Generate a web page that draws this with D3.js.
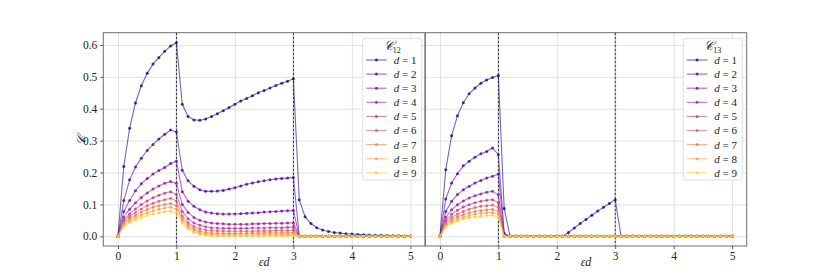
<!DOCTYPE html>
<html>
<head>
<meta charset="utf-8">
<script src="https://cdn.jsdelivr.net/npm/d3@7"></script>
<style>
  body { margin: 0; background: #fff; }
  svg { display: block; font-family: "Liberation Serif", "DejaVu Serif", serif; }
</style>
</head>
<body>
<div id="chart"></div>
<script>
// x grid (εd) shared by every series
const xs = [0, 0.1, 0.2, 0.3, 0.4, 0.5, 0.6, 0.7, 0.8, 0.9, 1.0,
  1.1, 1.2, 1.3, 1.4, 1.5, 1.6, 1.7, 1.8, 1.9, 2.0,
  2.1, 2.2, 2.3, 2.4, 2.5, 2.6, 2.7, 2.8, 2.9, 3.0,
  3.1, 3.2, 3.3, 3.4, 3.5, 3.6, 3.7, 3.8, 3.9, 4.0,
  4.1, 4.2, 4.3, 4.4, 4.5, 4.6, 4.7, 4.8, 4.9, 5.0];

const dValues = [1, 2, 3, 4, 5, 6, 7, 8, 9];
const xTicks = [0, 1, 2, 3, 4, 5];
const yTicks = [0, 0.1, 0.2, 0.3, 0.4, 0.5, 0.6];
const markerLines = [1, 3];

// C_12, one array per d
const c12_d1 = [0, 0.219, 0.339, 0.418, 0.472, 0.511, 0.540, 0.561, 0.580, 0.597, 0.607,
  0.414, 0.376, 0.365, 0.364, 0.368, 0.376, 0.384, 0.394, 0.404, 0.414,
  0.424, 0.432, 0.441, 0.450, 0.457, 0.465, 0.473, 0.480, 0.486, 0.494,
  0.115, 0.061, 0.040, 0.027, 0.020, 0.015, 0.012, 0.010, 0.008, 0.007,
  0.006, 0.005, 0.004, 0.0035, 0.003, 0.0025, 0.002, 0.0015, 0.001, 0.001];
const c12_d2 = [0, 0.112, 0.177, 0.217, 0.245, 0.269, 0.288, 0.305, 0.320, 0.333, 0.327,
  0.207, 0.174, 0.157, 0.146, 0.141, 0.141, 0.142, 0.144, 0.148, 0.152,
  0.158, 0.163, 0.167, 0.171, 0.174, 0.1775, 0.180, 0.1815, 0.1825, 0.1845,
  0, 0, 0, 0, 0, 0, 0, 0, 0, 0,
  0, 0, 0, 0, 0, 0, 0, 0, 0, 0];
const c12_d3 = [0, 0.078, 0.112, 0.143, 0.165, 0.181, 0.195, 0.206, 0.216, 0.228, 0.235,
  0.140, 0.110, 0.094, 0.083, 0.076, 0.073, 0.071, 0.070, 0.070, 0.070,
  0.071, 0.072, 0.073, 0.074, 0.076, 0.077, 0.078, 0.079, 0.080, 0.081,
  0, 0, 0, 0, 0, 0, 0, 0, 0, 0,
  0, 0, 0, 0, 0, 0, 0, 0, 0, 0];
const c12_d4 = [0, 0.060, 0.085, 0.105, 0.122, 0.136, 0.148, 0.158, 0.166, 0.172, 0.166,
  0.100, 0.075, 0.059, 0.050, 0.045, 0.042, 0.040, 0.039, 0.038, 0.038,
  0.038, 0.038, 0.039, 0.039, 0.040, 0.040, 0.041, 0.041, 0.042, 0.042,
  0, 0, 0, 0, 0, 0, 0, 0, 0, 0,
  0, 0, 0, 0, 0, 0, 0, 0, 0, 0];
const c12_d5 = [0, 0.050, 0.070, 0.086, 0.100, 0.111, 0.121, 0.129, 0.135, 0.140, 0.131,
  0.078, 0.055, 0.042, 0.035, 0.030, 0.027, 0.026, 0.025, 0.025, 0.025,
  0.025, 0.025, 0.026, 0.026, 0.026, 0.027, 0.027, 0.027, 0.028, 0.028,
  0, 0, 0, 0, 0, 0, 0, 0, 0, 0,
  0, 0, 0, 0, 0, 0, 0, 0, 0, 0];
const c12_d6 = [0, 0.045, 0.062, 0.075, 0.086, 0.096, 0.104, 0.110, 0.115, 0.119, 0.111,
  0.064, 0.043, 0.031, 0.024, 0.020, 0.018, 0.017, 0.016, 0.016, 0.016,
  0.016, 0.016, 0.016, 0.017, 0.017, 0.017, 0.018, 0.018, 0.018, 0.019,
  0, 0, 0, 0, 0, 0, 0, 0, 0, 0,
  0, 0, 0, 0, 0, 0, 0, 0, 0, 0];
const c12_d7 = [0, 0.040, 0.055, 0.066, 0.076, 0.084, 0.091, 0.096, 0.100, 0.103, 0.096,
  0.055, 0.035, 0.023, 0.016, 0.012, 0.010, 0.009, 0.009, 0.009, 0.009,
  0.009, 0.009, 0.010, 0.010, 0.010, 0.011, 0.011, 0.011, 0.012, 0.012,
  0, 0, 0, 0, 0, 0, 0, 0, 0, 0,
  0, 0, 0, 0, 0, 0, 0, 0, 0, 0];
const c12_d8 = [0, 0.036, 0.049, 0.059, 0.067, 0.074, 0.080, 0.085, 0.089, 0.091, 0.085,
  0.048, 0.028, 0.017, 0.010, 0.007, 0.005, 0.004, 0.004, 0.004, 0.004,
  0.004, 0.004, 0.004, 0.005, 0.005, 0.005, 0.005, 0.006, 0.006, 0.006,
  0, 0, 0, 0, 0, 0, 0, 0, 0, 0,
  0, 0, 0, 0, 0, 0, 0, 0, 0, 0];
const c12_d9 = [0, 0.032, 0.043, 0.052, 0.059, 0.065, 0.070, 0.074, 0.077, 0.079, 0.073,
  0.042, 0.023, 0.012, 0.006, 0.003, 0.002, 0.001, 0.001, 0.001, 0.001,
  0.001, 0.001, 0.001, 0.001, 0.001, 0.002, 0.002, 0.002, 0.002, 0.002,
  0, 0, 0, 0, 0, 0, 0, 0, 0, 0,
  0, 0, 0, 0, 0, 0, 0, 0, 0, 0];

// C_13, one array per d
const c13_d1 = [0, 0.209, 0.315, 0.378, 0.419, 0.447, 0.465, 0.480, 0.490, 0.498, 0.504,
  0.087, 0, 0, 0, 0, 0, 0, 0, 0, 0,
  0, 0.012, 0.026, 0.040, 0.053, 0.066, 0.079, 0.091, 0.103, 0.115,
  0, 0, 0, 0, 0, 0, 0, 0, 0, 0,
  0, 0, 0, 0, 0, 0, 0, 0, 0, 0];
const c13_d2 = [0, 0.117, 0.167, 0.196, 0.221, 0.235, 0.248, 0.259, 0.266, 0.277, 0.256,
  0.010, 0, 0, 0, 0, 0, 0, 0, 0, 0,
  0, 0, 0, 0, 0, 0, 0, 0, 0, 0,
  0, 0, 0, 0, 0, 0, 0, 0, 0, 0,
  0, 0, 0, 0, 0, 0, 0, 0, 0, 0];
const c13_d3 = [0, 0.078, 0.110, 0.131, 0.146, 0.157, 0.167, 0.175, 0.183, 0.188, 0.195,
  0.005, 0, 0, 0, 0, 0, 0, 0, 0, 0,
  0, 0, 0, 0, 0, 0, 0, 0, 0, 0,
  0, 0, 0, 0, 0, 0, 0, 0, 0, 0,
  0, 0, 0, 0, 0, 0, 0, 0, 0, 0];
const c13_d4 = [0, 0.060, 0.083, 0.099, 0.111, 0.120, 0.127, 0.133, 0.138, 0.141, 0.130,
  0, 0, 0, 0, 0, 0, 0, 0, 0, 0,
  0, 0, 0, 0, 0, 0, 0, 0, 0, 0,
  0, 0, 0, 0, 0, 0, 0, 0, 0, 0,
  0, 0, 0, 0, 0, 0, 0, 0, 0, 0];
const c13_d5 = [0, 0.050, 0.069, 0.082, 0.092, 0.099, 0.105, 0.110, 0.113, 0.115, 0.105,
  0, 0, 0, 0, 0, 0, 0, 0, 0, 0,
  0, 0, 0, 0, 0, 0, 0, 0, 0, 0,
  0, 0, 0, 0, 0, 0, 0, 0, 0, 0,
  0, 0, 0, 0, 0, 0, 0, 0, 0, 0];
const c13_d6 = [0, 0.043, 0.059, 0.070, 0.078, 0.085, 0.090, 0.094, 0.096, 0.098, 0.090,
  0, 0, 0, 0, 0, 0, 0, 0, 0, 0,
  0, 0, 0, 0, 0, 0, 0, 0, 0, 0,
  0, 0, 0, 0, 0, 0, 0, 0, 0, 0,
  0, 0, 0, 0, 0, 0, 0, 0, 0, 0];
const c13_d7 = [0, 0.038, 0.052, 0.061, 0.068, 0.074, 0.078, 0.081, 0.083, 0.085, 0.078,
  0, 0, 0, 0, 0, 0, 0, 0, 0, 0,
  0, 0, 0, 0, 0, 0, 0, 0, 0, 0,
  0, 0, 0, 0, 0, 0, 0, 0, 0, 0,
  0, 0, 0, 0, 0, 0, 0, 0, 0, 0];
const c13_d8 = [0, 0.034, 0.046, 0.054, 0.060, 0.065, 0.069, 0.072, 0.074, 0.075, 0.068,
  0, 0, 0, 0, 0, 0, 0, 0, 0, 0,
  0, 0, 0, 0, 0, 0, 0, 0, 0, 0,
  0, 0, 0, 0, 0, 0, 0, 0, 0, 0,
  0, 0, 0, 0, 0, 0, 0, 0, 0, 0];
const c13_d9 = [0, 0.030, 0.041, 0.048, 0.054, 0.058, 0.061, 0.063, 0.065, 0.066, 0.060,
  0, 0, 0, 0, 0, 0, 0, 0, 0, 0,
  0, 0, 0, 0, 0, 0, 0, 0, 0, 0,
  0, 0, 0, 0, 0, 0, 0, 0, 0, 0,
  0, 0, 0, 0, 0, 0, 0, 0, 0, 0];

const c12 = [c12_d1, c12_d2, c12_d3, c12_d4, c12_d5, c12_d6, c12_d7, c12_d8, c12_d9];
const c13 = [c13_d1, c13_d2, c13_d3, c13_d4, c13_d5, c13_d6, c13_d7, c13_d8, c13_d9];

const width = 830, height = 277;
const plotTop = 32.7, plotBottom = 246;

const panels = [
  { series: c12, sub: "12", x0: 103.3, x1: 425, yLabels: true, legendX: 362.7 },
  { series: c13, sub: "13", x0: 425.3, x1: 746.7, yLabels: false, legendX: 683.3 }
];

// plasma sampled at d-1 over 9 steps
const color = (i) => d3.interpolatePlasma(i / 9);
const lineAlpha = 0.6, dotAlpha = 0.8;

const svg = d3.select("#chart").append("svg")
  .attr("width", width)
  .attr("height", height);

const y = d3.scaleLinear().domain([-0.0304, 0.6384]).range([plotBottom, plotTop]);

panels.forEach((p) => {
  const x = d3.scaleLinear().domain([-0.25, 5.25]).range([p.x0, p.x1]);
  const g = svg.append("g");

  // grid
  g.append("g")
    .attr("transform", `translate(0, ${plotBottom})`)
    .call(d3.axisBottom(x).tickValues(xTicks).tickSize(-(plotBottom - plotTop)).tickFormat(""))
    .call((s) => {
      s.select(".domain").remove();
      s.selectAll("line").attr("stroke", "#e2e2e2").attr("stroke-width", 1);
    });
  g.append("g")
    .attr("transform", `translate(${p.x0}, 0)`)
    .call(d3.axisLeft(y).tickValues(yTicks).tickSize(-(p.x1 - p.x0)).tickFormat(""))
    .call((s) => {
      s.select(".domain").remove();
      s.selectAll("line").attr("stroke", "#e2e2e2").attr("stroke-width", 1);
    });

  // x axis
  g.append("g")
    .attr("transform", `translate(0, ${plotBottom})`)
    .call(d3.axisBottom(x).tickValues(xTicks).tickSize(3).tickPadding(3).tickFormat(d3.format("d")))
    .call((s) => {
      s.select(".domain").remove();
      s.selectAll("line").attr("stroke", "#555");
      s.selectAll("text").attr("fill", "#222").style("font-size", "11.5px")
        .style("font-family", "'Liberation Serif', serif");
    });

  if (p.yLabels) {
    g.append("g")
      .attr("transform", `translate(${p.x0}, 0)`)
      .call(d3.axisLeft(y).tickValues(yTicks).tickSize(3).tickPadding(3).tickFormat(d3.format(".1f")))
      .call((s) => {
        s.select(".domain").remove();
        s.selectAll("line").attr("stroke", "#555");
        s.selectAll("text").attr("fill", "#222").style("font-size", "11.5px")
          .style("font-family", "'Liberation Serif', serif");
      });
  }

  // vertical dashed lines
  g.selectAll(".vline")
    .data(markerLines)
    .join("line")
    .attr("class", "vline")
    .attr("x1", (d) => x(d)).attr("x2", (d) => x(d))
    .attr("y1", plotTop).attr("y2", plotBottom)
    .attr("stroke", "#111")
    .attr("stroke-width", 0.9)
    .attr("stroke-dasharray", "2.6,1.4");

  // series
  const lineFunc = d3.line()
    .x((v, i) => x(xs[i]))
    .y((v) => y(v));

  p.series.forEach((vals, i) => {
    const sg = g.append("g");
    sg.append("path")
      .attr("d", lineFunc(vals))
      .attr("fill", "none")
      .attr("stroke", color(i))
      .attr("stroke-opacity", lineAlpha)
      .attr("stroke-width", 1.1);
    sg.selectAll("circle")
      .data(vals)
      .join("circle")
      .attr("cx", (v, j) => x(xs[j]))
      .attr("cy", (v) => y(v))
      .attr("r", 1.5)
      .attr("fill", color(i))
      .attr("fill-opacity", dotAlpha);
  });

  // frame
  g.append("rect")
    .attr("x", p.x0).attr("y", plotTop)
    .attr("width", p.x1 - p.x0).attr("height", plotBottom - plotTop)
    .attr("fill", "none")
    .attr("stroke", "#6e6e6e")
    .attr("stroke-width", 1);

  // x label
  g.append("text")
    .attr("x", (p.x0 + p.x1) / 2)
    .attr("y", 266)
    .attr("text-anchor", "middle")
    .style("font-size", "12px")
    .style("font-style", "italic")
    .attr("fill", "#222")
    .text("εd");

  // legend
  const lg = g.append("g").attr("transform", `translate(${p.legendX}, 38.3)`);
  lg.append("rect")
    .attr("width", 59).attr("height", 141.7)
    .attr("rx", 2.5)
    .attr("fill", "#fff").attr("fill-opacity", 0.85)
    .attr("stroke", "#d5d5d5").attr("stroke-width", 0.8);
  const title = lg.append("text")
    .attr("x", 29.5).attr("y", 12)
    .attr("text-anchor", "middle")
    .style("font-size", "13px")
    .attr("fill", "#222");
  title.append("tspan").style("font-style", "italic").text("𝒞");
  title.append("tspan").attr("dy", 3).style("font-size", "8px").text(p.sub);

  dValues.forEach((d, i) => {
    const ly = 21.7 + i * 14.1;
    lg.append("line")
      .attr("x1", 3.5).attr("x2", 24)
      .attr("y1", ly).attr("y2", ly)
      .attr("stroke", color(i)).attr("stroke-opacity", lineAlpha).attr("stroke-width", 1.1);
    lg.append("circle")
      .attr("cx", 13.75).attr("cy", ly).attr("r", 1.5)
      .attr("fill", color(i)).attr("fill-opacity", dotAlpha);
    const t = lg.append("text")
      .attr("x", 31).attr("y", ly + 4)
      .style("font-size", "11px")
      .attr("fill", "#222");
    t.append("tspan").style("font-style", "italic").text("d");
    t.append("tspan").text(" = " + d);
  });
});

// y label
svg.append("text")
  .attr("transform", "translate(86, 140) rotate(-90)")
  .attr("text-anchor", "middle")
  .style("font-size", "13px")
  .style("font-style", "italic")
  .attr("fill", "#222")
  .text("𝒞");
</script>
</body>
</html>
